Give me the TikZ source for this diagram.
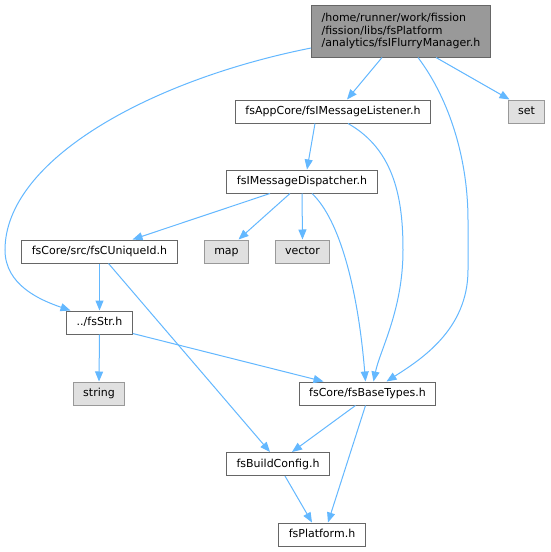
\documentclass[tikz,border=0pt]{standalone}
\usepackage{fontspec}
\setmainfont{DejaVu Sans}
\usepackage{tikz}
\usetikzlibrary{
    arrows.meta
}
\definecolor{edgeblue}{RGB}{99,184,255}

\begin{document}
\begin{tikzpicture}[x=1pt, y=-1pt,
    >={Triangle[length=10pt, width=8pt]},
    file/.style={draw=black!60, line width=1pt, fill=white, minimum height=23pt, inner xsep=10pt, inner ysep=0pt, text height=8.5pt, text depth=2.5pt, font=\fontsize{11}{12.5}\selectfont},
    sysfile/.style={file, draw=black!40, fill=black!12},
    mainfile/.style={draw=black!60, line width=1pt, fill=black!40, align=left, minimum height=52pt, inner xsep=10pt, inner ysep=0pt, font=\fontsize{11}{12.5}\selectfont},
    link/.style={color=edgeblue, line width=1pt}]
    \fill[white] (0, 0) rectangle (551, 552);
    \useasboundingbox (0, 0) rectangle (551, 552);
    \node[mainfile] (flurry) at (401, 31) {/home/runner/work/fission\\/fission/libs/fsPlatform\\/analytics/fsIFlurryManager.h};
    \node[file] (listener) at (333, 111.5) {fsAppCore/fsIMessageListener.h};
    \node[sysfile] (set) at (526.5, 111.5) {set};
    \node[file] (dispatcher) at (302, 181.5) {fsIMessageDispatcher.h};
    \node[file] (uniqueid) at (99.5, 251.5) {fsCore/src/fsCUniqueId.h};
    \node[sysfile] (map) at (226.5, 251.5) {map};
    \node[sysfile] (vector) at (302.5, 251.5) {vector};
    \node[file] (str) at (99.5, 322.5) {../fsStr.h};
    \node[sysfile] (string) at (99, 393.5) {string};
    \node[file] (basetypes) at (367.5, 393.5) {fsCore/fsBaseTypes.h};
    \node[file] (buildconfig) at (278, 464) {fsBuildConfig.h};
    \node[file] (platform) at (322, 534.5) {fsPlatform.h};
    \draw[link]
    ([xshift=-19pt]flurry.south) edge[->] ([xshift=14pt]listener.north)
    ([xshift=35pt]flurry.south) edge[->] ([xshift=-17pt]set.north)
    ([xshift=-18pt]listener.south) edge[->] ([xshift=5pt]dispatcher.north)
    ([xshift=-32pt]dispatcher.south) edge[->] ([xshift=33pt]uniqueid.north)
    ([xshift=-12pt]dispatcher.south) edge[->] ([xshift=12pt]map.north)
    (dispatcher.south) edge[->] (vector.north)
    (uniqueid.south) edge[->] (str.north)
    ([xshift=9pt]uniqueid.south) edge[->] ([xshift=-8pt]buildconfig.north)
    (str.south) edge[->] (string.north)
    ([yshift=-11pt]str.east) edge[->] ([xshift=-44pt]basetypes.north)
    ([xshift=-12pt]basetypes.south) edge[->] ([xshift=14pt]buildconfig.north)
    ([xshift=-2pt]basetypes.south) edge[->] ([xshift=6pt]platform.north)
    ([xshift=7pt]buildconfig.south) edge[->] ([xshift=-10pt]platform.north);
    \draw[link, ->] ([yshift=-17pt]flurry.west) .. controls (150, 80) and (5, 160) .. (5, 250)
        .. controls (5, 285) and (40, 300) .. ([xshift=-29pt]str.north);
    \draw[link, ->] ([xshift=17pt]flurry.south) .. controls (450, 100) and (468, 160) .. (468, 220)
        -- (468, 270) .. controls (468, 330) and (420, 360) .. ([xshift=19pt]basetypes.north);
    \draw[link, ->] ([xshift=15pt]listener.south) .. controls (395, 150) and (403, 200) .. (403, 250)
        .. controls (403, 310) and (380, 350) .. ([xshift=6pt]basetypes.north);
    \draw[link, ->] ([xshift=10pt]dispatcher.south) .. controls (340, 220) and (358, 290) .. ([xshift=-2pt]basetypes.north);
\end{tikzpicture}
\end{document}
